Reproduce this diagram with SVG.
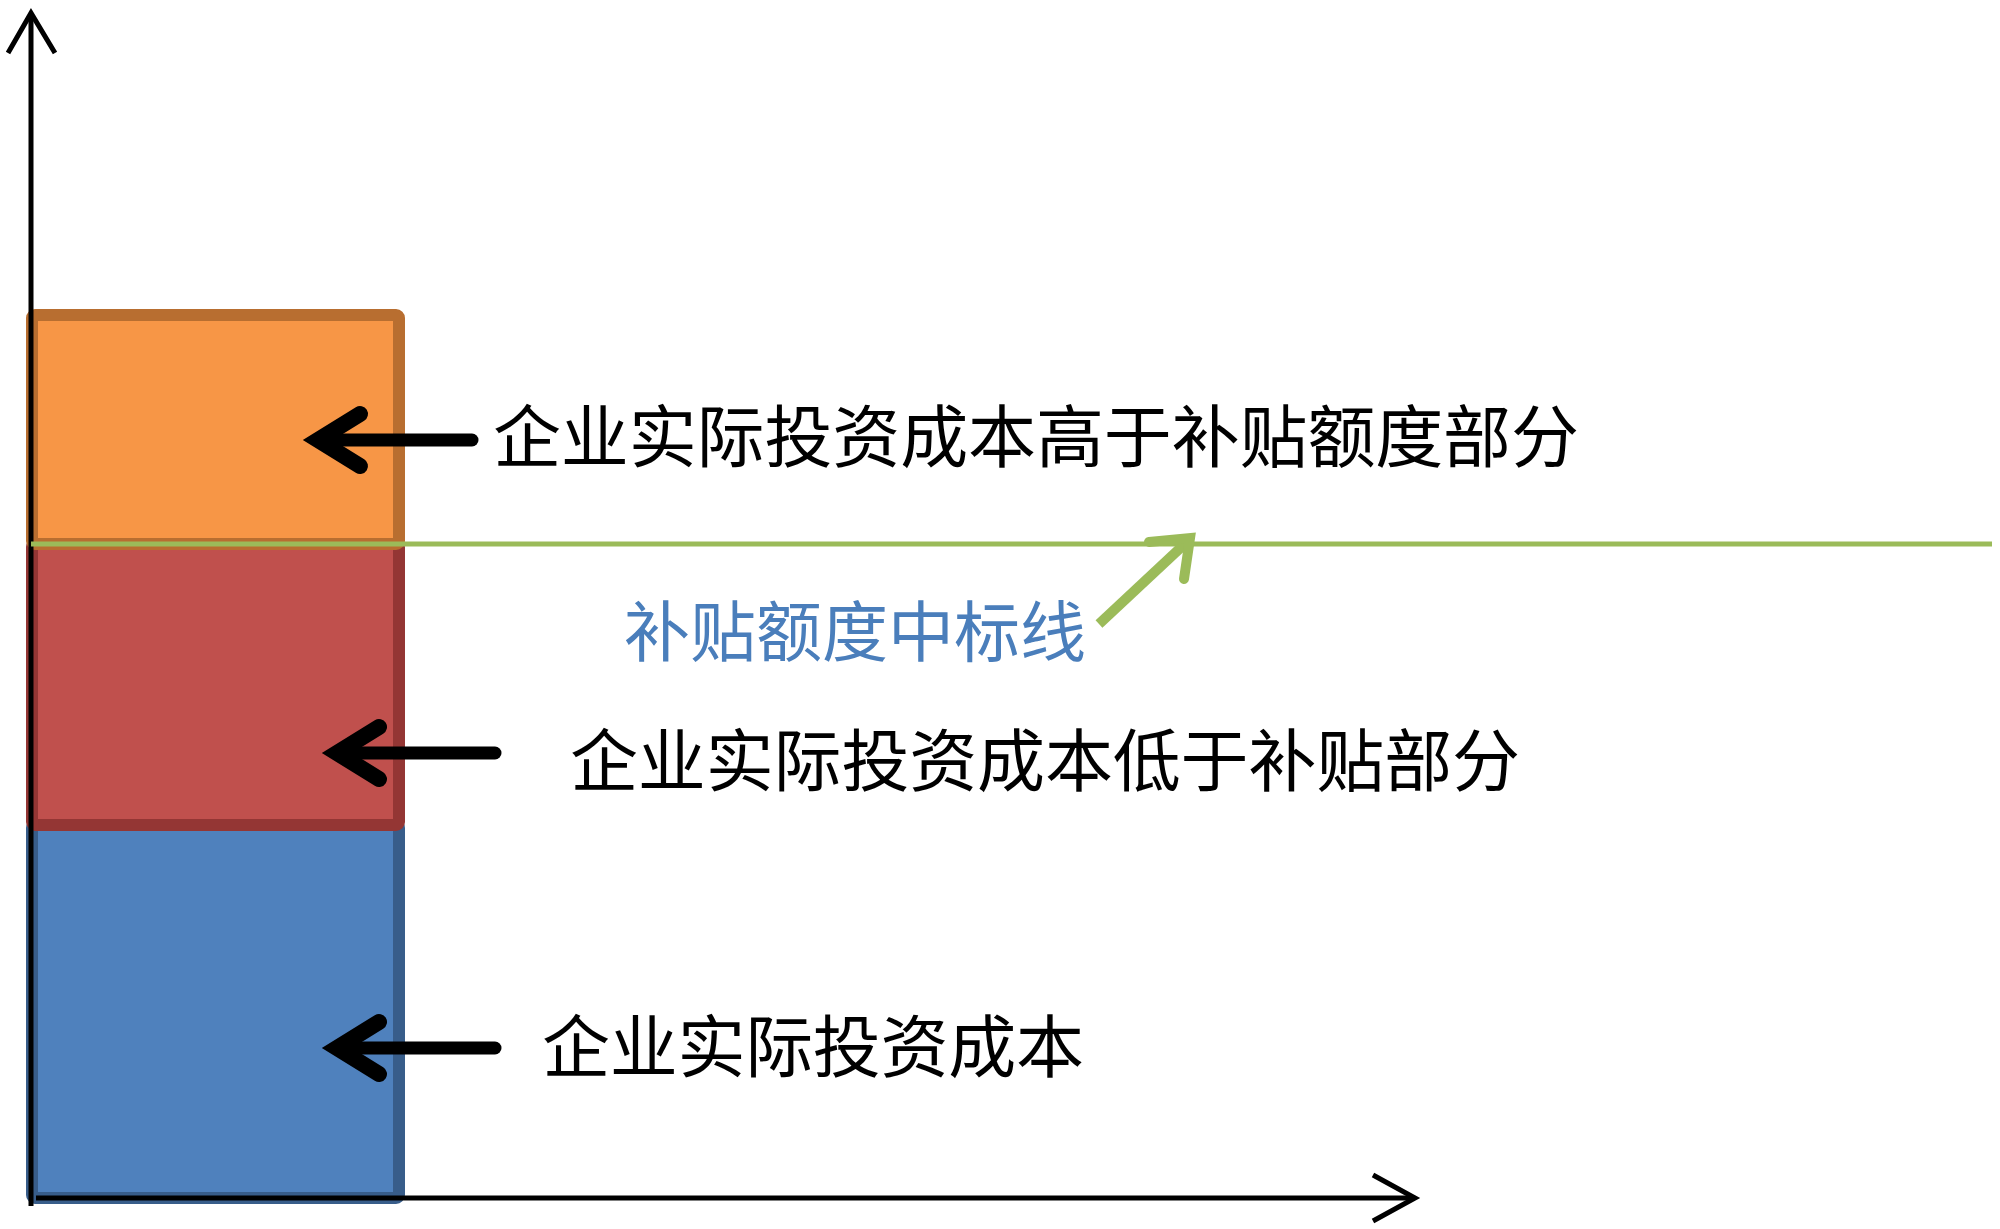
<svg xmlns="http://www.w3.org/2000/svg" width="2000" height="1229" viewBox="0 0 2000 1229">
<style>
.lbl{font-family:"Noto Sans CJK SC","Noto Sans",sans-serif;font-size:68px;fill:#000}
.blue{font-family:"Noto Sans CJK SC","Noto Sans",sans-serif;font-size:66px;fill:#4A7EBB}
.ax{stroke:#000;stroke-width:5;fill:none}
.ptr{stroke:#000;fill:none;stroke-linecap:round;stroke-linejoin:miter}
</style>
<rect width="2000" height="1229" fill="#fff"/>
<g id="blue-block"><rect x="32" y="825" width="367" height="373" rx="3" fill="#4F81BD" stroke="#385D8A" stroke-width="12"/></g>
<g id="red-block"><rect x="32" y="544" width="367" height="281" rx="3" fill="#C0504D" stroke="#943634" stroke-width="12"/></g>
<g id="orange-block"><rect x="32" y="315" width="367" height="229" rx="3" fill="#F79646" stroke="#B86E30" stroke-width="12"/></g>
<g id="axes">
<line class="ax" x1="31" y1="1206" x2="31" y2="13"/>
<polyline class="ax" points="8,53 31,13 55,53"/>
<line class="ax" x1="36" y1="1198" x2="1415" y2="1198"/>
<polyline class="ax" points="1373,1175 1415,1198 1373,1221"/>
</g>
<g id="connectors">
<line x1="31" y1="544" x2="1992" y2="544" stroke="#9BBB59" stroke-width="5"/>
<line x1="1099" y1="624" x2="1190" y2="539" stroke="#9BBB59" stroke-width="10" stroke-linecap="butt"/>
<polyline points="1149,542 1190,538 1184,579" fill="none" stroke="#9BBB59" stroke-width="10" stroke-linecap="round" stroke-linejoin="miter"/>
<line class="ptr" x1="318" y1="440" x2="472" y2="440" stroke-width="13" stroke-linecap="butt"/>
<polyline class="ptr" points="360,414 318,440 360,466" stroke-width="16"/>
<line class="ptr" x1="337" y1="753" x2="495" y2="753" stroke-width="13" stroke-linecap="butt"/>
<polyline class="ptr" points="379,727 337,753 379,779" stroke-width="16"/>
<line class="ptr" x1="337" y1="1048" x2="495" y2="1048" stroke-width="13" stroke-linecap="butt"/>
<polyline class="ptr" points="379,1022 337,1048 379,1074" stroke-width="16"/>
</g>
<g id="label-above"><text class="lbl" x="493" y="462" textLength="1086" lengthAdjust="spacing">企业实际投资成本高于补贴额度部分</text></g>
<g id="label-line"><text class="blue" x="624" y="656" textLength="462" lengthAdjust="spacing">补贴额度中标线</text></g>
<g id="label-below"><text class="lbl" x="570" y="786" textLength="950" lengthAdjust="spacing">企业实际投资成本低于补贴部分</text></g>
<g id="label-cost"><text class="lbl" x="542" y="1072" textLength="542" lengthAdjust="spacing">企业实际投资成本</text></g>
</svg>
